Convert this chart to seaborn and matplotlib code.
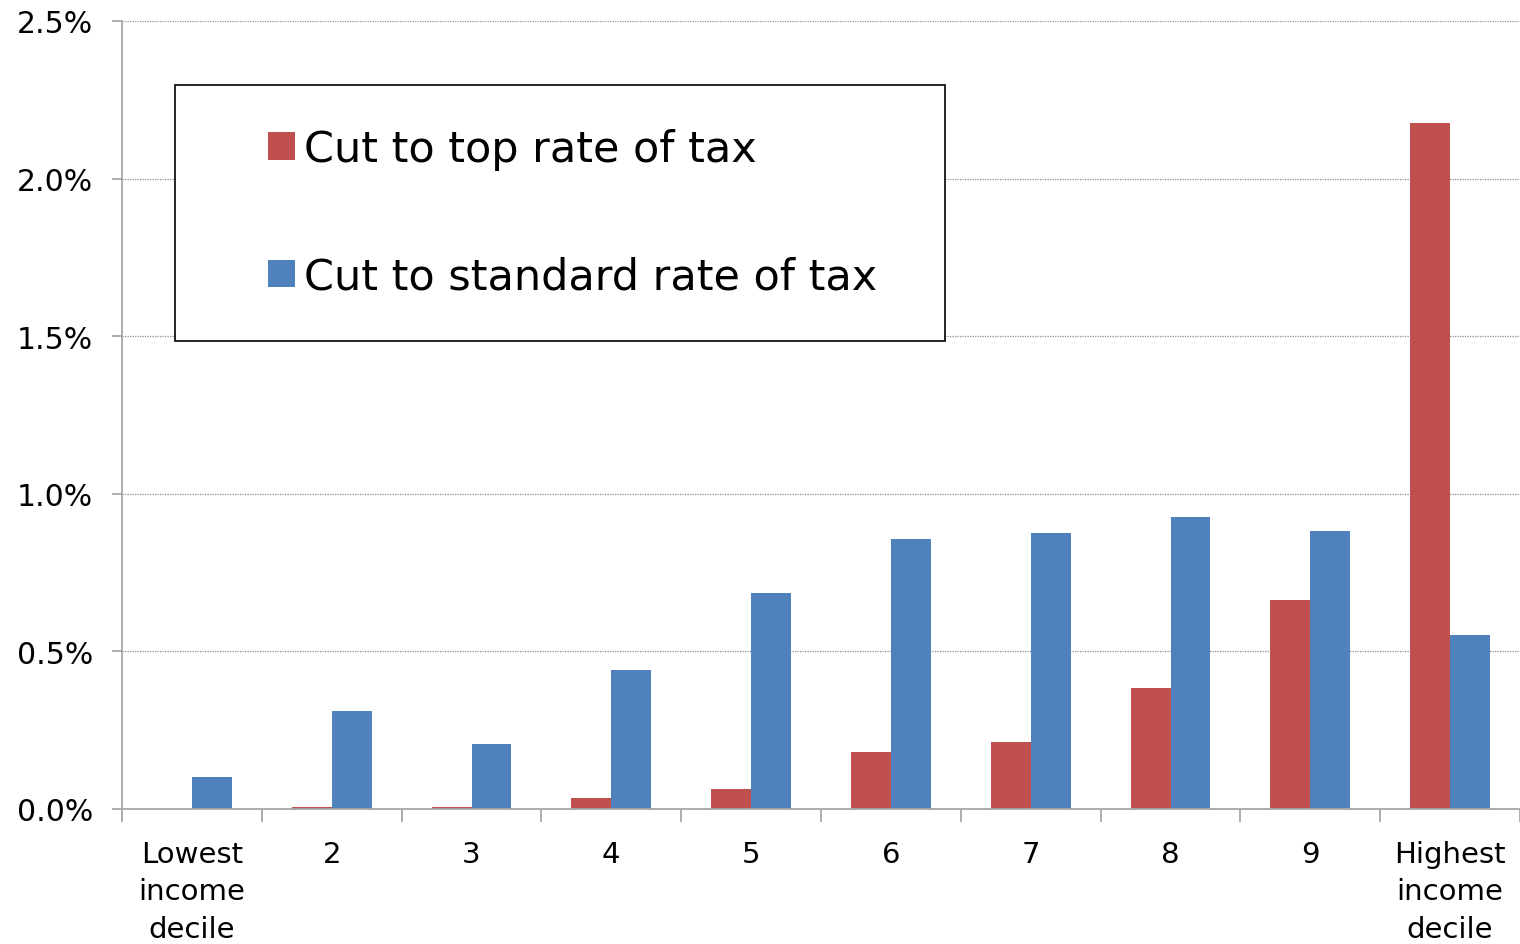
import numpy as np
import pandas as pd
import matplotlib
matplotlib.use("Agg")
import matplotlib.pyplot as plt
from matplotlib.patches import Rectangle
import seaborn as sns

# Income deciles and change in net income (% of income) under each reform
deciles = ["Lowest\nincome\ndecile", "2", "3", "4", "5", "6", "7", "8", "9",
           "Highest\nincome\ndecile"]
top_rate_cut = [0.0, 0.006, 0.006, 0.034, 0.063, 0.180, 0.213, 0.384, 0.662, 2.175]
standard_rate_cut = [0.100, 0.311, 0.206, 0.441, 0.685, 0.857, 0.876, 0.926, 0.882, 0.552]
series_names = ["Cut to top rate of tax", "Cut to standard rate of tax"]
y_ticks = [0.0, 0.5, 1.0, 1.5, 2.0, 2.5]

df = pd.DataFrame({
    "decile": deciles * 2,
    "value": top_rate_cut + standard_rate_cut,
    "series": [series_names[0]] * len(deciles) + [series_names[1]] * len(deciles),
})

sns.set_theme(style="white")
plt.rcParams["font.family"] = ["DejaVu Sans"]

fig = plt.figure(figsize=(15.2, 9.45), dpi=100)
ax = fig.add_axes([122 / 1520, 1 - 810 / 945, 1 - 122 / 1520, (810 - 22) / 945])

sns.barplot(data=df, x="decile", y="value", hue="series", order=deciles,
            hue_order=series_names, palette=["#C0504D", "#4F81BD"],
            width=0.57, linewidth=0, saturation=1, ax=ax, legend=False)

ax.set_xlim(-0.5, len(deciles) - 0.5)
ax.set_ylim(0, 2.5)
ax.set_yticks(y_ticks)
ax.set_yticklabels([f"{v:.1f}%" for v in y_ticks])
ax.yaxis.grid(True, linestyle=(0, (1, 1)), color="#8c8c8c", linewidth=0.9)
ax.xaxis.grid(False)
ax.set_axisbelow(True)
ax.set_xlabel("")
ax.set_ylabel("")

for side in ["top", "right"]:
    ax.spines[side].set_visible(False)
for side in ["left", "bottom"]:
    ax.spines[side].set_color("#a6a6a6")
    ax.spines[side].set_linewidth(1.3)

# Category labels centred under each group, tick marks on group boundaries
ax.set_xticks(np.arange(len(deciles)))
ax.set_xticklabels(deciles, fontsize=21, linespacing=1.44, color="black")
ax.set_xticks(np.arange(-0.5, len(deciles), 1), minor=True)
ax.tick_params(axis="x", which="major", length=0, pad=22)
ax.tick_params(axis="x", which="minor", length=9, width=1.3, color="#a6a6a6",
               direction="out", bottom=True)
ax.tick_params(axis="y", which="major", length=7, width=1.3, color="#a6a6a6",
               direction="out", left=True, pad=14, labelsize=21.5, labelcolor="black")

# Legend inside a plain black frame
handles = [Rectangle((0, 0), 1, 1, facecolor=c, edgecolor="none")
           for c in ["#C0504D", "#4F81BD"]]
leg = ax.legend(handles, series_names, loc="center left",
                bbox_to_anchor=((268 - 122) / 1398, 1 - (214 - 22) / 788),
                frameon=False, fontsize=31, handlelength=0.62, handleheight=0.62,
                handletextpad=0.22, labelspacing=1.98, borderaxespad=0,
                borderpad=0)
for t in leg.get_texts():
    t.set_color("black")
ax.add_patch(Rectangle(((175 - 122) / 1398, (810 - 342) / 788),
                       (945 - 175) / 1398, (342 - 86) / 788,
                       transform=ax.transAxes, facecolor="white",
                       edgecolor="black", linewidth=1.2, zorder=4))
leg.set_zorder(5)

fig.savefig("out.png", dpi=100)
